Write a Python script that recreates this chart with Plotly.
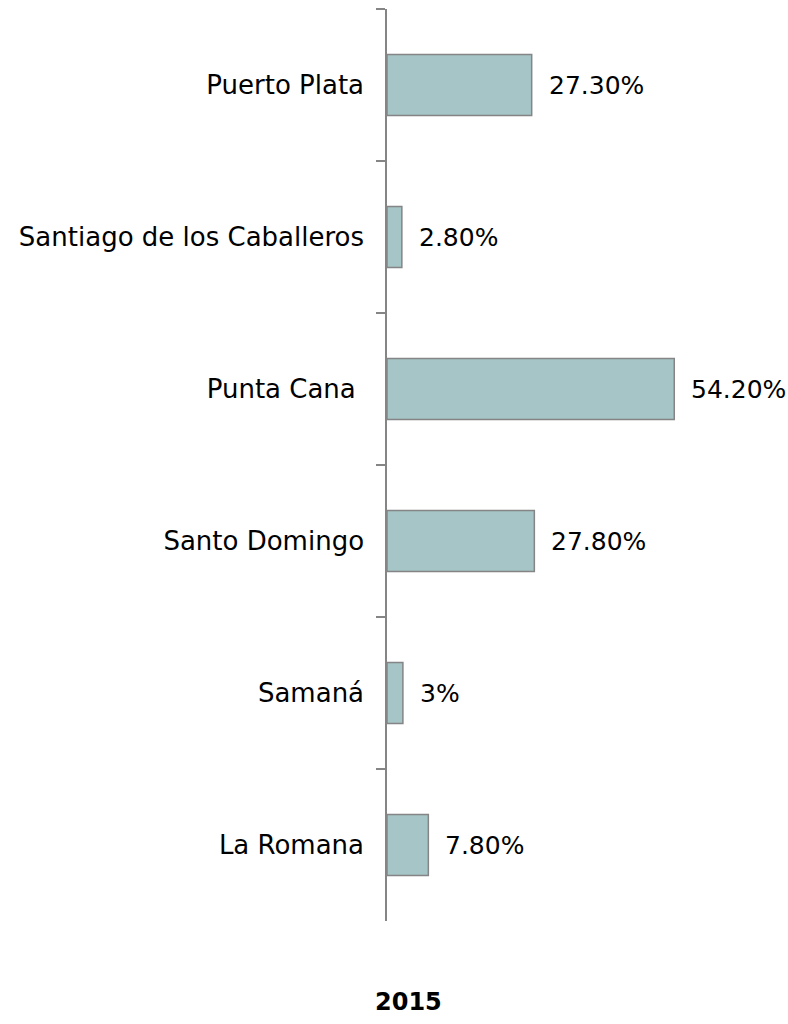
import plotly.graph_objects as go

categories = ["Puerto Plata", "Santiago de los Caballeros", "Punta Cana ", "Santo Domingo", "Samaná", "La Romana"]
values = [27.3, 2.8, 54.2, 27.8, 3.0, 7.8]
labels = ["27.30%", "2.80%", "54.20%", "27.80%", "3%", "7.80%"]
title_text = "2015"

FONT = "DejaVu Sans"
W, H = 788, 1024
TOP, BOT = 9, 921
L, T = 386.5, TOP
PW = 288 / 54.2 * 60  # plot width in px for range 0..60
R = W - L - PW
B = H - BOT

fig = go.Figure()
fig.add_trace(go.Bar(
    x=values, y=categories, orientation="h",
    marker=dict(color="#A5C5C7", line=dict(color="#858585", width=1.5)),
    hoverinfo="skip",
))

for v, c, t in zip(values, categories, labels):
    fig.add_annotation(x=v, y=c, text=t, xanchor="left", yanchor="middle",
                       xshift=15, showarrow=False,
                       font=dict(family=FONT, size=25, color="#000000"))

fig.add_annotation(x=(408 - L) / PW, y=-(1002 - BOT) / (BOT - TOP),
                   xref="paper", yref="paper", text="<b>" + title_text + "</b>",
                   showarrow=False, xanchor="center", yanchor="middle",
                   font=dict(family=FONT, size=24, color="#000000"))

fig.update_layout(
    width=W, height=H, autosize=False,
    margin=dict(l=L, r=R, t=T, b=B, pad=0),
    plot_bgcolor="white", paper_bgcolor="white",
    bargap=0.6, showlegend=False,
    xaxis=dict(range=[0, 60], visible=False, showgrid=False, zeroline=False),
    yaxis=dict(autorange="reversed", type="category", showline=True, linecolor="#858585", linewidth=1.5,
               ticks="outside", ticklen=9, tickcolor="#858585", tickwidth=1.5,
               tickson="boundaries", ticklabelstandoff=16,
               tickfont=dict(family=FONT, size=26, color="#000000"), showgrid=False),
)

fig.write_html("out.html", config={"displayModeBar": False},
               post_script="document.body.style.margin='0';document.body.style.overflow='hidden';")
